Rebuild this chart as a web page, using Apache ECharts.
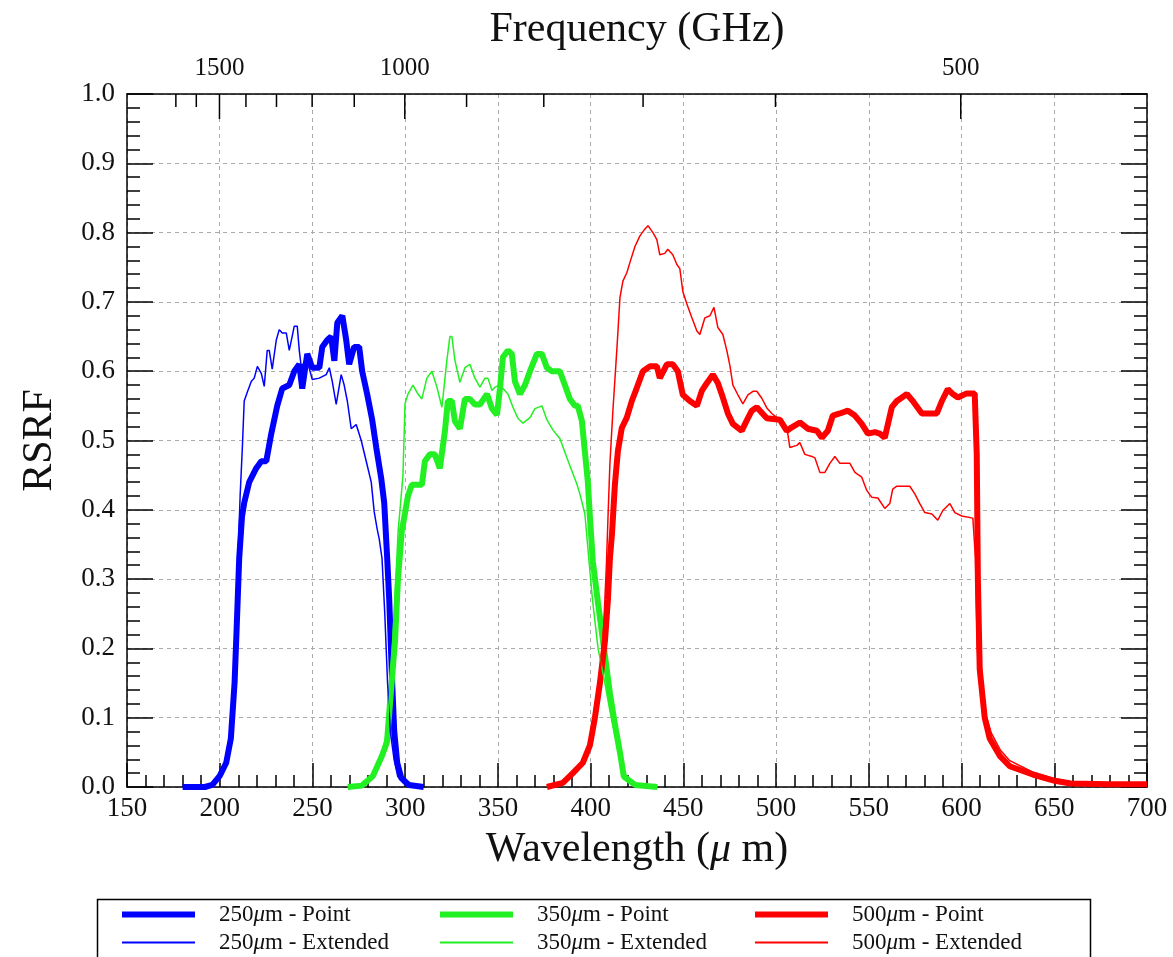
<!DOCTYPE html>
<html>
<head>
<meta charset="utf-8">
<script src="https://cdn.jsdelivr.net/npm/echarts@6/dist/echarts.min.js"></script>
<style>
html,body{margin:0;padding:0;background:#fff;}
#chart{width:1173px;height:957px;}
</style>
</head>
<body>
<div id="chart"></div>
<script>
// ---------- DATA (wavelength in µm, RSRF) ----------
const blue250Point = [[180,0],[192,0],[196,0.003],[200,0.016],[203.5,0.035],[206,0.07],[208,0.15],[209,0.22],[210.5,0.33],[212,0.39],[213.2,0.41],[215.9,0.44],[219.7,0.46],[222.4,0.47],[225.1,0.47],[227.8,0.51],[231,0.55],[233.7,0.575],[237.5,0.58],[240.2,0.60],[242.9,0.61],[244.5,0.575],[247.2,0.625],[249.9,0.605],[253.7,0.605],[255.3,0.635],[258,0.645],[260.1,0.65],[261.8,0.615],[263.4,0.67],[266.1,0.68],[268.2,0.645],[269.8,0.61],[272.5,0.635],[275.2,0.635],[276.8,0.60],[279.5,0.567],[282.2,0.53],[284.4,0.49],[287.1,0.445],[288.7,0.41],[290.3,0.33],[291.4,0.27],[293,0.15],[294.1,0.08],[295.7,0.035],[297.9,0.013],[302,0.003],[310,0]];
const blue250Ext = [[180,0],[192,0],[196,0.003],[200,0.016],[203.5,0.04],[206,0.08],[208,0.18],[209.5,0.3],[211,0.42],[212.2,0.49],[213.2,0.557],[214.9,0.57],[217,0.585],[218.6,0.59],[220.3,0.607],[222.4,0.597],[224,0.578],[225.6,0.63],[226.7,0.63],[228.3,0.603],[230.5,0.645],[232.1,0.66],[233.7,0.655],[235.9,0.655],[237.5,0.63],[240.2,0.665],[241.8,0.665],[242.9,0.63],[244,0.605],[246.7,0.62],[249.9,0.588],[253.7,0.59],[257.4,0.595],[259.1,0.605],[260.7,0.585],[262.8,0.552],[265.5,0.595],[267.1,0.58],[268.8,0.557],[270.9,0.517],[273.6,0.523],[276.3,0.50],[279,0.47],[281.7,0.44],[283.3,0.397],[284.9,0.372],[286,0.358],[287.5,0.33],[289,0.25],[290.5,0.15],[292,0.08],[294,0.04],[296,0.015],[300,0.003],[310,0]];
const green350Point = [[269,0],[276.7,0.002],[282.6,0.016],[287.5,0.045],[290.2,0.065],[291.8,0.12],[294.5,0.21],[296.1,0.30],[298.2,0.37],[299.9,0.395],[301.5,0.42],[303.6,0.436],[309,0.436],[310.6,0.47],[313.3,0.48],[316,0.48],[318.7,0.46],[321.4,0.513],[323,0.557],[325.2,0.557],[326.8,0.528],[329.5,0.517],[332.2,0.56],[334.9,0.56],[337.6,0.552],[340.3,0.552],[344.1,0.567],[346.8,0.546],[349.5,0.537],[351.1,0.575],[352.7,0.62],[355.4,0.63],[357.5,0.625],[359.2,0.585],[361.9,0.567],[364.6,0.58],[367.3,0.60],[371,0.625],[373.7,0.625],[376.4,0.605],[379.1,0.60],[383.4,0.60],[386.1,0.58],[388.8,0.56],[391.5,0.55],[393.1,0.55],[395.3,0.528],[396.9,0.484],[398.5,0.44],[399.6,0.39],[401.2,0.325],[403.9,0.267],[407.7,0.19],[410.4,0.135],[413.1,0.09],[415.8,0.05],[417.9,0.015],[424,0.003],[436,0]];
const green350Ext = [[269,0],[276.7,0.002],[282.6,0.018],[287.5,0.05],[290.2,0.08],[292,0.15],[294.5,0.27],[296.2,0.37],[297.2,0.40],[298.8,0.45],[299.9,0.553],[301.5,0.567],[304.2,0.58],[306.9,0.567],[309,0.56],[311.7,0.59],[314.4,0.60],[317.1,0.577],[319.8,0.548],[320.4,0.548],[322.5,0.616],[324.1,0.65],[325.2,0.65],[326.8,0.616],[329.5,0.584],[332.2,0.605],[334.9,0.61],[337.6,0.59],[340.3,0.577],[343,0.59],[344.6,0.59],[346.8,0.572],[348.4,0.577],[351.1,0.58],[355.4,0.567],[358.1,0.548],[360.8,0.532],[363.5,0.525],[367.3,0.533],[370,0.546],[373.7,0.55],[376.4,0.53],[379.7,0.515],[383.4,0.503],[384.5,0.495],[387.2,0.475],[389.9,0.456],[392.6,0.437],[394.2,0.423],[396.9,0.394],[399,0.33],[401,0.27],[404,0.2],[407.7,0.15],[410.4,0.11],[413.1,0.075],[415.8,0.045],[418,0.02],[424,0.004],[436,0]];
const red500Point = [[376.4,0],[385,0.006],[390.4,0.02],[395.8,0.035],[399.6,0.06],[402.3,0.1],[405,0.15],[407.7,0.21],[409.3,0.27],[410.4,0.33],[411.5,0.365],[413.1,0.437],[414.7,0.485],[416.8,0.518],[419.5,0.533],[422.2,0.557],[424.9,0.576],[428.2,0.60],[431.9,0.607],[435.7,0.607],[437.3,0.59],[441.1,0.61],[444.3,0.61],[447,0.60],[449.7,0.566],[453.5,0.557],[457.3,0.55],[460,0.572],[462.7,0.583],[465.9,0.595],[468.6,0.583],[471.3,0.562],[474,0.539],[476.7,0.524],[481.5,0.514],[484.2,0.529],[486.9,0.543],[489.6,0.548],[492.3,0.54],[495,0.532],[502,0.53],[505.8,0.514],[508.5,0.519],[512.8,0.526],[517.1,0.517],[522,0.514],[524.7,0.504],[527.9,0.514],[530.6,0.536],[534.4,0.539],[538.7,0.543],[542.5,0.536],[546.2,0.524],[549.5,0.51],[553.2,0.512],[555.9,0.51],[558.6,0.504],[562.4,0.548],[565.1,0.557],[566.7,0.56],[570.5,0.567],[573.7,0.557],[578.6,0.539],[581.8,0.539],[586.7,0.539],[589.4,0.557],[592.6,0.574],[595.3,0.567],[598,0.562],[602.8,0.568],[607.1,0.568],[608.2,0.48],[608.8,0.30],[609.8,0.17],[612.5,0.10],[615.2,0.07],[620.6,0.045],[626,0.03],[638.4,0.018],[650.3,0.009],[658.9,0.005],[680,0.004],[700,0.004]];
const red500Ext = [[376.4,0],[385,0.006],[390.4,0.02],[395.8,0.035],[399.6,0.06],[402.3,0.1],[405,0.16],[407,0.23],[408.5,0.32],[409.5,0.40],[410.4,0.467],[412,0.543],[414.2,0.634],[415.8,0.706],[417.4,0.73],[419.5,0.742],[421.2,0.757],[423.9,0.78],[426.5,0.795],[429.2,0.805],[430.9,0.81],[433.6,0.80],[435.7,0.79],[437.3,0.768],[440,0.77],[441.6,0.776],[444.3,0.768],[446.5,0.754],[448.1,0.748],[449.7,0.715],[451.9,0.697],[454.6,0.677],[457.3,0.658],[458.9,0.653],[461.6,0.677],[464.3,0.68],[466.5,0.692],[468.6,0.663],[471.3,0.653],[473.5,0.629],[475.1,0.608],[476.7,0.58],[479.4,0.566],[482.1,0.553],[484.8,0.566],[487.5,0.571],[489.6,0.571],[492.3,0.561],[495,0.547],[497.7,0.539],[500.4,0.533],[503.6,0.524],[506.3,0.51],[507.4,0.49],[511.2,0.493],[512.8,0.497],[515.5,0.48],[519.3,0.477],[520.9,0.475],[523.6,0.454],[526.3,0.454],[529,0.467],[531.7,0.477],[534.4,0.467],[539.8,0.467],[542.5,0.454],[546.2,0.447],[548.9,0.428],[551.6,0.418],[554.9,0.417],[558.6,0.402],[561.3,0.409],[562.9,0.43],[565.1,0.434],[572.1,0.434],[574.8,0.423],[577.5,0.409],[580.2,0.396],[584,0.394],[587.2,0.385],[589.9,0.399],[593.7,0.409],[596.4,0.396],[600.1,0.391],[606.1,0.388],[607.5,0.33],[608.5,0.2],[610,0.14],[613,0.105],[616,0.078],[621,0.053],[626,0.038],[638,0.022],[650,0.012],[660,0.007],[680,0.004],[700,0.003]];

const seriesNames = ['250μm - Point','250μm - Extended','350μm - Point','350μm - Extended','500μm - Point','500μm - Extended'];
const seriesColors = ['#0000ff','#0000ff','#22f022','#22f022','#ff0000','#ff0000'];
// Frequency (GHz) axis along the top
const freqTicks = [1700,1600,1500,1400,1300,1200,1100,1000,900,800,700,600,500];
const freqLabels = [1500,1000,500];
const C_UM_GHZ = 299792.458; // wavelength[µm] = C / frequency[GHz]

// ---------- CHART ----------
const FONT = '"Liberation Serif","Times New Roman",serif';
const chart = echarts.init(document.getElementById('chart'), null, {renderer:'canvas'});
const datasets = [blue250Point, blue250Ext, green350Point, green350Ext, red500Point, red500Ext];
const lineSeries = datasets.map((d,i)=>({
  name: seriesNames[i], type:'line', data:d, symbol:'none', showSymbol:false, silent:true,
  xAxisIndex:0, yAxisIndex:0,
  lineStyle:{color:seriesColors[i], width: i%2===0 ? 6 : 1.5},
  itemStyle:{color:seriesColors[i]},
  z: i%2===0 ? 3 : 4
}));
const freqData = freqTicks.map(f=>[C_UM_GHZ/f, 1, f]);
const freqSeries = {
  type:'custom', coordinateSystem:'cartesian2d', xAxisIndex:0, yAxisIndex:0,
  data:freqData, encode:{x:0,y:1}, silent:true, clip:false, z:6,
  renderItem:(params, api)=>{
    const f = api.value(2);
    const p = api.coord([api.value(0), api.value(1)]);
    const major = freqLabels.indexOf(f) >= 0;
    const children = [{
      type:'line', shape:{x1:p[0], y1:p[1], x2:p[0], y2:p[1] + (major?25:13)},
      style:{stroke:'#000', lineWidth:1.5}
    }];
    if (major) children.push({
      type:'text', x:p[0], y:p[1]-26,
      style:{text:String(f), fill:'#111', font:'25px '+FONT, align:'center', verticalAlign:'middle'}
    });
    return {type:'group', children};
  }
};

const legendCols = [117, 435, 750];
const legendRows = [898, 926];
const legends = seriesNames.map((n,i)=>{
  const thick = i%2===0;
  return {
    left: legendCols[Math.floor(i/2)], top: legendRows[i%2],
    orient:'horizontal', itemWidth:73, itemHeight: thick?6:2, selectedMode:false,
    icon:'rect',
    data:[{name:n, icon:'rect', itemStyle:{color:seriesColors[i], borderWidth:0}}],
    formatter: s => s.replace('μ','{mu|μ}'),
    textStyle:{fontFamily:FONT, fontSize:23, color:'#111', padding:[0,0,0,19],
      rich:{mu:{fontFamily:FONT, fontSize:23, fontStyle:'italic', color:'#111'}}}
  };
});

const option = {
  animation:false,
  backgroundColor:'#fff',
  grid:{left:127, right:26, top:94, bottom:170, containLabel:false},
  xAxis:[{
    type:'value', position:'bottom', min:150, max:700, interval:50,
    name:'Wavelength ({mu|μ} m)', nameLocation:'middle', nameGap:42,
    nameTextStyle:{fontFamily:FONT, fontSize:42, color:'#111',
      rich:{mu:{fontFamily:FONT, fontSize:42, fontStyle:'italic', color:'#111'}}},
    axisLine:{show:true, lineStyle:{color:'#000', width:1.5}},
    axisTick:{show:true, inside:true, length:24, lineStyle:{color:'#000', width:1.5}},
    minorTick:{show:true, splitNumber:5, length:12, lineStyle:{color:'#000', width:1.5}},
    axisLabel:{fontFamily:FONT, fontSize:27, color:'#111', margin:8},
    splitLine:{show:true, lineStyle:{color:'#aaa', type:[4,4], width:1}},
    minorSplitLine:{show:false}
  },{
    type:'value', position:'top', min:150, max:700, interval:50,
    name:'Frequency (GHz)', nameLocation:'middle', nameGap:43,
    nameTextStyle:{fontFamily:FONT, fontSize:42, color:'#111'},
    axisLine:{show:true, onZero:false, lineStyle:{color:'#000', width:1.5}},
    axisTick:{show:false}, axisLabel:{show:false}, splitLine:{show:false}
  }],
  yAxis:[{
    type:'value', position:'left', min:0, max:1, interval:0.1,
    name:'RSRF', nameLocation:'middle', nameGap:66,
    nameTextStyle:{fontFamily:FONT, fontSize:42, color:'#111'},
    axisLine:{show:true, lineStyle:{color:'#000', width:1.5}},
    axisTick:{show:true, inside:true, length:26, lineStyle:{color:'#000', width:1.5}},
    minorTick:{show:true, splitNumber:5, length:13, lineStyle:{color:'#000', width:1.5}},
    axisLabel:{fontFamily:FONT, fontSize:27, color:'#111', margin:12, formatter:v=>v.toFixed(1)},
    splitLine:{show:true, lineStyle:{color:'#aaa', type:[4,4], width:1}}
  },{
    type:'value', position:'right', min:0, max:1, interval:0.1,
    axisLine:{show:true, onZero:false, lineStyle:{color:'#000', width:1.5}},
    axisTick:{show:true, inside:true, length:26, lineStyle:{color:'#000', width:1.5}},
    minorTick:{show:true, splitNumber:5, length:13, lineStyle:{color:'#000', width:1.5}},
    axisLabel:{show:false}, splitLine:{show:false}
  }],
  legend: legends,
  graphic:[{
    type:'rect', left:95, top:897, shape:{width:993, height:80},
    style:{fill:'none', stroke:'#000', lineWidth:1.5}, silent:true, z:-1
  }],
  series: lineSeries.concat([freqSeries])
};
chart.setOption(option);
</script>
</body>
</html>
